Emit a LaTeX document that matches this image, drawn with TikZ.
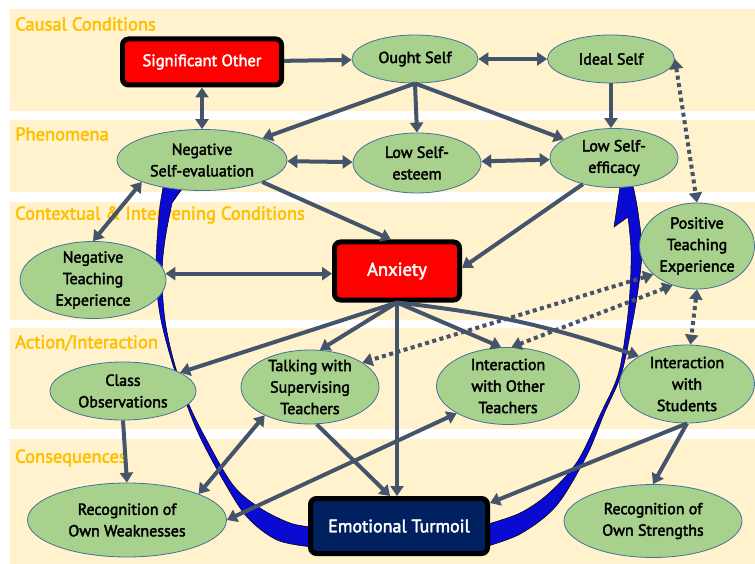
\documentclass[tikz,border=0pt]{standalone}
\usepackage{fontspec}
\setmainfont{PT Sans}[BoldFont={PT Sans}, BoldFeatures={FakeBold=2.5}]
\usetikzlibrary{positioning,arrows.meta,shapes.geometric,calc,backgrounds}
\definecolor{bandfill}{HTML}{FFF2CC}
\definecolor{bandtext}{HTML}{FFC000}
\definecolor{leaf}{HTML}{A9D18E}
\definecolor{leafline}{HTML}{41719C}
\definecolor{slate}{HTML}{44546A}
\definecolor{navy}{HTML}{002060}
\definecolor{flow}{HTML}{0A0AD2}
\tikzset{
  concept/.style={ellipse, draw=leafline, line width=0.8pt, fill=leaf, align=center,
    inner xsep=0pt, inner ysep=-8pt, font=\fontsize{16}{21.5}\selectfont\bfseries},
  keybox/.style={rectangle, rounded corners=6pt, draw=black, line width=5pt, text=white,
    font=\fontsize{16.5}{20}\selectfont\bfseries},
  link/.style={draw=slate, line width=4pt, -{Triangle[length=10pt,width=13pt]}},
  both/.style={link, {Triangle[length=10pt,width=13pt]}-{Triangle[length=10pt,width=13pt]}},
  hint/.style={both, dash pattern=on 4pt off 3.5pt},
  band/.style={fill=bandfill, draw=none},
  bandlabel/.style={anchor=west, text=bandtext, inner sep=0pt, font=\fontsize{18.5}{20}\selectfont\bfseries},
  flowarrow/.style={fill=flow, draw=black, line width=0.5pt}
}
\begin{document}
\begin{tikzpicture}[x=1pt, y=-1pt]
    \useasboundingbox (0,0) rectangle (755,564);

    \node[keybox, fill=red, minimum width=159pt, minimum height=46pt] (sigother) at (202,62) {Significant Other};
    \node[concept, minimum width=126pt, minimum height=48pt] (ought) at (415,59) {Ought Self};
    \node[concept, minimum width=127pt, minimum height=48pt] (ideal) at (611,59) {Ideal Self};
    \node[concept, minimum width=170pt, minimum height=61pt] (negself) at (202,160) {Negative\\Self-evaluation};
    \node[concept, minimum width=128pt, minimum height=60pt] (lowesteem) at (417,163) {Low Self-\\esteem};
    \node[concept, minimum width=128pt, minimum height=59pt] (lowefficacy) at (614,158) {Low Self-\\efficacy};
    \node[concept, minimum width=146pt, minimum height=77pt] (negteach) at (93,280) {Negative\\Teaching\\Experience};
    \node[keybox, fill=red, minimum width=125pt, minimum height=58pt, font=\fontsize{18.5}{22}\selectfont\bfseries] (anxiety) at (397,271) {Anxiety};
    \node[concept, minimum width=115pt, minimum height=86pt] (postteach) at (697,246) {Positive\\Teaching\\Experience};
    \node[concept, minimum width=146pt, minimum height=58pt] (classobs) at (123,391) {Class\\Observations};
    \node[concept, minimum width=138pt, minimum height=74pt] (talking) at (310,387) {Talking with\\Supervising\\Teachers};
    \node[concept, minimum width=143pt, minimum height=77pt] (othert) at (508,386) {Interaction\\with Other\\Teachers};
    \node[concept, minimum width=135pt, minimum height=78pt] (students) at (687,384) {Interaction\\with\\Students};
    \node[concept, minimum width=199pt, minimum height=74pt] (weak) at (127,520) {Recognition of\\Own Weaknesses};
    \node[keybox, fill=navy, minimum width=177pt, minimum height=55pt, font=\fontsize{18}{22}\selectfont\bfseries] (turmoil) at (399,526) {Emotional Turmoil};
    \node[concept, minimum width=178pt, minimum height=73pt] (strong) at (653,521) {Recognition of\\Own Strengths};

    \draw[link] (sigother) -- (ought);
    \draw[both] (sigother.south) -- (negself.north);
    \draw[both] (ought) -- (ideal);
    \draw[link] (ought.south) -- (negself);
    \draw[link] (ought.south) -- (lowesteem.north);
    \draw[link] (ought.south) -- (lowefficacy);
    \draw[link] (ideal.south) -- (ideal.south |- lowefficacy.north);
    \draw[hint] (ideal.east) -- (postteach.north);
    \draw[both] (negself) -- (lowesteem);
    \draw[both] (lowesteem) -- (lowefficacy);
    \draw[link] (negself.-20) -- ([xshift=-6pt]anxiety.north);
    \draw[link] (lowefficacy.-140) -- ([yshift=3pt]anxiety.east);
    \draw[both] (negself.-160) -- (negteach.north);
    \draw[both] (negteach.5) -- (negteach.5 -| anxiety.west);
    \draw[link] (anxiety.south) -- (classobs);
    \draw[link] (anxiety.south) -- (talking.75);
    \draw[link] (anxiety.south) -- (othert.100);
    \draw[link] (anxiety.south) to[bend left=6] (students.150);
    \draw[link] (anxiety.south) -- (anxiety.south |- turmoil.north);
    \draw[hint] (postteach.213) -- (talking.25);
    \draw[hint] (postteach.238) -- (othert.85);
    \draw[hint] (postteach.south) -- (students.85);
    \draw[link] (classobs.south) -- (weak.north);
    \draw[both] (talking.212) -- (weak.20);
    \draw[link] (talking.-80) -- ([xshift=-9pt]turmoil.north);
    \draw[both] (othert.208) -- (weak.east);
    \draw[link] (students.south) -- ([yshift=-7pt]turmoil.north east);
    \draw[link] (students.south) -- (strong.north);

    \begin{scope}[on background layer]
      \fill[band] (10,9) rectangle (755,111);
      \fill[band] (10,120) rectangle (755,192);
      \fill[band] (10,202) rectangle (755,320);
      \fill[band] (10,328) rectangle (755,429);
      \fill[band] (10,439) rectangle (755,564);
      \node[bandlabel] (lcausal) at (15,24) {Causal Conditions};
      \node[bandlabel] (lphen) at (15,134) {Phenomena};
      \node[bandlabel] (lcontext) at (15,215) {Contextual \& Intervening Conditions};
      \node[bandlabel] (laction) at (15,343) {Action/Interaction};
      \node[bandlabel] (lconseq) at (15,458) {Consequences};
      \filldraw[flowarrow] plot[smooth, tension=0.55] coordinates {(312,547) (277,540) (247,517) (223,480) (200,437) (185,400) (172,362) (161,320) (156,280) (157,240) (160,205)}
        -- (168,158) -- (187,182) -- (172,203)
        -- plot[smooth, tension=0.55] coordinates {(172,203) (165,240) (162,275) (165,320) (174,362) (187,400) (205,437) (233,485) (260,508) (290,523) (312,527)} -- cycle;
      \filldraw[flowarrow] plot[smooth, tension=0.55] coordinates {(488,546) (522,533) (557,505) (587,455) (604,414) (621,375) (631,330) (638,290) (642,250) (638,212) (634,190)}
        -- (624,160) -- (614,227) -- (628,217)
        -- plot[smooth, tension=0.55] coordinates {(628,217) (631,250) (630,290) (626,330) (618,375) (600,415) (577,462) (548,494) (520,513) (488,524)} -- cycle;
    \end{scope}
\end{tikzpicture}
\end{document}
